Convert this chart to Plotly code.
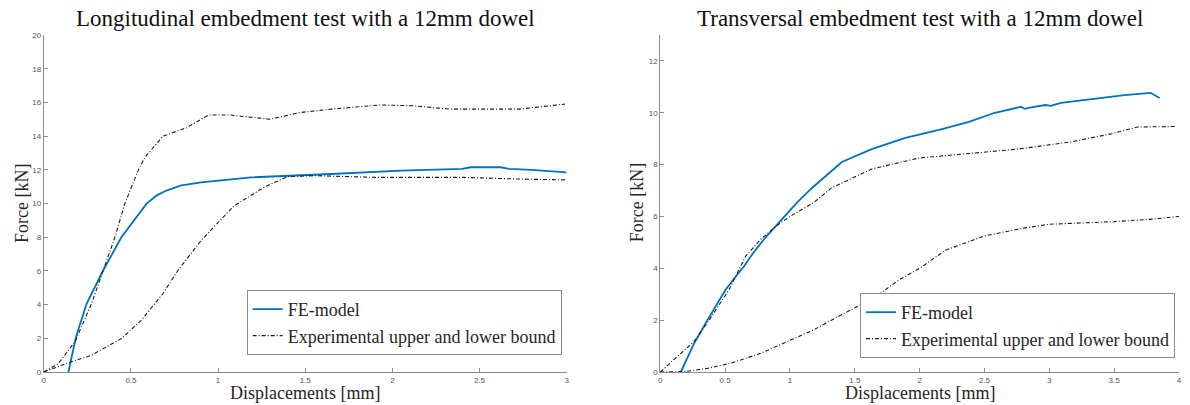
import plotly.graph_objects as go

# ---------------- Data: longitudinal (left) ----------------
fe_long_x = [0.141, 0.185, 0.246, 0.341, 0.446, 0.531, 0.589, 0.646, 0.703, 0.789, 0.903, 1.19, 1.47, 1.65, 2.05, 2.40, 2.45, 2.55, 2.62, 2.67, 2.80, 3.00]
fe_long_y = [0.0, 2.09, 4.06, 6.04, 8.01, 9.19, 9.98, 10.47, 10.77, 11.07, 11.26, 11.55, 11.65, 11.75, 11.95, 12.05, 12.15, 12.15, 12.15, 12.05, 12.0, 11.85]

up_long_x = [0.0, 0.084, 0.179, 0.274, 0.341, 0.408, 0.465, 0.541, 0.58, 0.685, 0.82, 0.945, 1.07, 1.30, 1.47, 1.65, 1.93, 2.12, 2.33, 2.73, 2.99]
up_long_y = [0.0, 0.51, 1.8, 4.06, 6.04, 8.0, 10.0, 11.95, 12.75, 14.0, 14.5, 15.25, 15.25, 15.0, 15.4, 15.6, 15.85, 15.8, 15.6, 15.6, 15.9]

lo_long_x = [0.0, 0.141, 0.274, 0.446, 0.56, 0.684, 0.77, 0.903, 1.09, 1.27, 1.40, 1.55, 1.90, 2.40, 2.73, 3.00]
lo_long_y = [0.0, 0.55, 1.0, 1.99, 3.08, 4.66, 6.04, 7.81, 9.85, 11.0, 11.6, 11.65, 11.55, 11.55, 11.45, 11.4]

# ---------------- Data: transversal (right) ----------------
fe_tran_x = [0.159, 0.262, 0.364, 0.505, 0.595, 0.646, 0.718, 0.80, 0.915, 1.005, 1.056, 1.17, 1.32, 1.40, 1.63, 1.89, 2.15, 2.38, 2.58, 2.78, 2.81, 2.85, 2.97, 3.01, 3.09, 3.17, 3.38, 3.58, 3.78, 3.85]
fe_tran_y = [0.0, 1.11, 2.0, 3.18, 3.76, 4.08, 4.6, 5.12, 5.76, 6.28, 6.54, 7.1, 7.75, 8.1, 8.6, 9.03, 9.34, 9.65, 10.0, 10.23, 10.15, 10.2, 10.3, 10.27, 10.38, 10.43, 10.56, 10.68, 10.77, 10.57]

up_tran_x = [0.0, 0.262, 0.377, 0.531, 0.659, 0.775, 0.928, 1.03, 1.185, 1.32, 1.63, 1.99, 2.76, 3.17, 3.48, 3.68, 3.97]
up_tran_y = [0.0, 1.18, 2.0, 3.18, 4.47, 5.12, 5.76, 6.09, 6.54, 7.1, 7.83, 8.25, 8.6, 8.88, 9.19, 9.45, 9.47]

lo_tran_x = [0.0, 0.20, 0.364, 0.544, 0.775, 0.98, 1.185, 1.32, 1.66, 1.84, 2.0, 2.2, 2.5, 2.8, 3.0, 3.5, 3.8, 4.0]
lo_tran_y = [0.0, 0.02, 0.14, 0.34, 0.72, 1.18, 1.63, 2.0, 2.9, 3.55, 4.0, 4.7, 5.25, 5.55, 5.7, 5.8, 5.9, 6.0]

titles = ["Longitudinal embedment test with a 12mm dowel",
          "Transversal embedment test with a 12mm dowel"]
x_label = "Displacements [mm]"
y_label = "Force [kN]"
fe_name = "FE-model"
exp_name = "Experimental upper and lower bound"

BLUE = "#0072BD"
SERIF = "Liberation Serif"
AXC = "#8c8c8c"
TXT = "#262626"

# full-window figure; the page's default body margin is removed by the post script
W, H = 1190, 405
T, B = 35, 405 - 372
PH = H - T - B

def px(pix):
    return pix / W

def py(pix):
    return (H - B - pix) / PH

fig = go.Figure()

def add_panel(n, fx, fy, ux, uy, lx, ly):
    xa = "x" if n == 1 else "x2"
    ya = "y" if n == 1 else "y2"
    lg = "legend" if n == 1 else "legend2"
    fig.add_trace(go.Scatter(x=fx, y=fy, mode="lines", name=fe_name,
                             line=dict(color=BLUE, width=1.8),
                             xaxis=xa, yaxis=ya, legend=lg))
    fig.add_trace(go.Scatter(x=ux + [None] + lx, y=uy + [None] + ly, mode="lines",
                             name=exp_name, connectgaps=False,
                             line=dict(color="#1a1a1a", width=1.1, dash="4px,2px,1px,2px"),
                             xaxis=xa, yaxis=ya, legend=lg))

add_panel(1, fe_long_x, fe_long_y, up_long_x, up_long_y, lo_long_x, lo_long_y)
add_panel(2, fe_tran_x, fe_tran_y, up_tran_x, up_tran_y, lo_tran_x, lo_tran_y)

axis_common = dict(showline=True, linecolor=AXC, linewidth=1, ticks="inside",
                   tickcolor=AXC, ticklen=4, showgrid=False, zeroline=False,
                   tickfont=dict(family="Liberation Sans", size=8, color="#555555"),
                   mirror=False)

d1 = [px(42), px(567)]
d2 = [px(661), px(1182)]

legend_common = dict(xanchor="right", yanchor="bottom", bgcolor="white",
                     bordercolor=AXC, borderwidth=1,
                     font=dict(family=SERIF, size=18, color=TXT),
                     tracegroupgap=0, itemwidth=30)

label_font = dict(family=SERIF, size=18, color=TXT)
title_font = dict(family=SERIF, size=23, color="#111111")

annotations = []
for i, (d, yx) in enumerate([(d1, 20), (d2, 638)]):
    annotations.append(dict(text=titles[i], x=(d[0] + d[1]) / 2, y=py(19), xref="paper", yref="paper",
                            xanchor="center", yanchor="middle", showarrow=False, font=title_font))
    annotations.append(dict(text=x_label, x=(d[0] + d[1]) / 2, y=py(393), xref="paper", yref="paper",
                            xanchor="center", yanchor="middle", showarrow=False, font=label_font))
    annotations.append(dict(text=y_label, x=px(yx), y=py(203), xref="paper", yref="paper",
                            xanchor="center", yanchor="middle", showarrow=False, textangle=-90,
                            font=label_font))

fig.update_layout(
    width=W, height=H,
    margin=dict(l=0, r=0, t=T, b=B),
    paper_bgcolor="white", plot_bgcolor="white",
    xaxis=dict(domain=d1, range=[0, 3], tickvals=[0, 0.5, 1, 1.5, 2, 2.5, 3],
               ticktext=["0", "0.5", "1", "1.5", "2", "2.5", "3"], anchor="y", **axis_common),
    yaxis=dict(range=[0, 20], tickvals=list(range(0, 21, 2)), anchor="x", **axis_common),
    xaxis2=dict(domain=d2, range=[0, 4], tickvals=[0, 0.5, 1, 1.5, 2, 2.5, 3, 3.5, 4],
                ticktext=["0", "0.5", "1", "1.5", "2", "2.5", "3", "3.5", "4"], anchor="y2", **axis_common),
    yaxis2=dict(range=[0, 13], tickvals=list(range(0, 13, 2)), anchor="x2", **axis_common),
    legend=dict(x=px(562), y=py(355), **legend_common),
    legend2=dict(x=px(1178), y=py(358), **legend_common),
    annotations=annotations,
)

fig.write_html("out.html",
               config={"displayModeBar": False},
               post_script="document.body.style.margin='0px';document.body.style.overflow='hidden';")
